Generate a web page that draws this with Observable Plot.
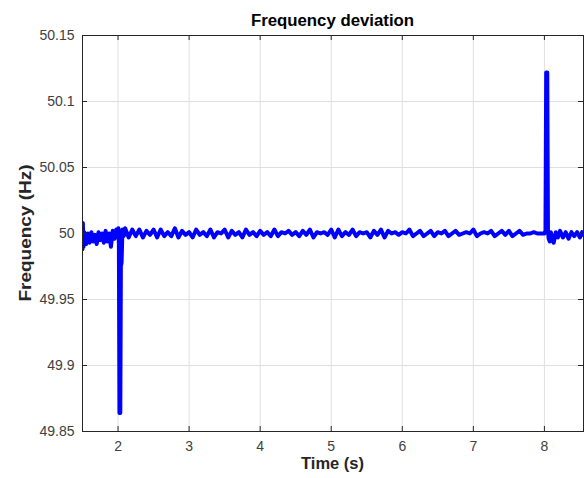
<!DOCTYPE html>
<html><head><meta charset="utf-8">
<script src="https://cdn.jsdelivr.net/npm/d3@7"></script>
<script src="https://cdn.jsdelivr.net/npm/@observablehq/plot@0.6"></script>
<style>html,body{margin:0;padding:0;background:#fff} svg{display:block}</style>
</head><body><div id="chart"></div>
<script>
const time = [
 1.500,1.505,1.515,1.525,1.550,1.575,1.600,1.625,1.650,1.675,1.700,1.725,1.750,1.775,1.800,1.825,1.850,1.875,1.900,1.925,1.950,1.975,1.995,2.005,2.012,2.020,2.032,2.040,2.050,2.062,2.080,2.100,
 2.15,2.20,2.25,2.30,2.35,2.40,2.45,2.50,2.55,2.60,2.65,2.70,2.75,2.80,2.85,2.90,2.95,3.00,
 3.05,3.10,3.15,3.20,3.25,3.30,3.35,3.40,3.45,3.50,3.55,3.60,3.65,3.70,3.75,3.80,3.85,3.90,3.95,4.00,
 4.05,4.10,4.15,4.20,4.25,4.30,4.35,4.40,4.45,4.50,4.55,4.60,4.65,4.70,4.75,4.80,4.85,4.90,4.95,5.00,
 5.05,5.10,5.15,5.20,5.25,5.30,5.35,5.40,5.45,5.50,5.55,5.60,5.65,5.70,5.75,5.80,5.85,5.90,5.95,6.00,
 6.05,6.10,6.15,6.20,6.25,6.30,6.35,6.40,6.45,6.50,6.55,6.60,6.65,6.70,6.75,6.80,6.85,6.90,6.95,7.00,
 7.05,7.10,7.15,7.20,7.25,7.30,7.35,7.40,7.45,7.50,7.55,7.60,7.65,7.70,7.75,7.80,7.85,7.90,7.95,8.00,
 8.015,8.025,8.040,8.050,8.060,8.075,8.090,8.11,8.13,8.16,8.19,8.22,8.26,8.30,8.34,8.38,8.42,8.46,8.50,8.53,8.55
];
const freq = [
 49.988,50.008,49.990,50.001,49.992,50.000,49.993,50.001,49.994,49.999,49.992,50.001,49.995,50.000,49.993,50.002,49.994,50.000,49.990,50.002,49.996,50.003,49.997,50.004,49.992,49.864,49.864,49.975,49.978,50.003,49.998,50.004,
 49.997,50.003,49.998,50.003,49.997,50.002,49.999,50.003,49.997,50.003,49.998,50.001,49.998,50.004,49.997,50.002,49.999,50.001,
 49.997,50.003,49.999,50.001,49.998,50.003,49.997,50.001,50.000,50.003,49.997,50.002,49.999,50.001,49.997,50.003,49.999,50.001,49.998,50.002,
 49.999,50.001,49.998,50.003,49.998,50.001,50.000,50.002,49.999,50.001,49.998,50.002,49.999,50.003,49.997,50.001,50.000,50.001,49.999,50.003,
 49.997,50.003,49.998,50.001,49.999,50.003,49.998,50.001,50.000,50.001,49.997,50.002,49.999,50.003,49.997,50.002,50.000,50.001,49.999,50.001,
 50.000,50.003,49.998,50.000,50.002,49.998,50.000,50.002,49.998,50.001,50.000,50.002,49.998,50.000,50.002,49.999,50.000,50.001,50.000,50.003,
 49.998,50.000,50.001,50.000,50.002,49.998,50.000,50.002,49.999,50.002,49.998,50.000,50.002,49.999,50.000,50.000,50.001,50.000,50.000,50.000,
 50.002,50.122,50.122,50.002,49.996,49.994,50.001,49.996,49.993,50.001,49.997,50.002,49.997,50.001,49.996,50.001,49.998,50.001,49.997,50.001,49.999
];
const xTicks = [2, 3, 4, 5, 6, 7, 8];
const xTickLabels = ["2", "3", "4", "5", "6", "7", "8"];
const yTicks = [49.85, 49.9, 49.95, 50, 50.05, 50.1, 50.15];
const yTickLabels = ["49.85", "49.9", "49.95", "50", "50.05", "50.1", "50.15"];
const titleText = "Frequency deviation";
const xLabelText = "Time (s)";
const yLabelText = "Frequency (Hz)";

const data = time.map((t, i) => ({t, f: freq[i]}));
const W = 584, H = 478, mL = 82, mR = 1, mT = 35, mB = 47;
const frameH = H - mT - mB, frameW = W - mL - mR;
const tk = 5;
const axisColor = "#262626";
const gridColor = "#dfdfdf";

const chart = Plot.plot({
  width: W, height: H,
  marginLeft: mL, marginRight: mR, marginTop: mT, marginBottom: mB,
  style: {fontFamily: "'Liberation Sans', Arial, sans-serif", background: "#fff", overflow: "visible"},
  x: {domain: [1.5, 8.55]},
  y: {domain: [49.85, 50.15]},
  marks: [
    Plot.gridX(xTicks, {stroke: gridColor, strokeOpacity: 1}),
    Plot.gridY(yTicks, {stroke: gridColor, strokeOpacity: 1}),
    Plot.line(data, {x: "t", y: "f", stroke: "#0000ff", strokeWidth: 4, strokeLinejoin: "round", clip: true}),
    Plot.frame({stroke: axisColor, strokeWidth: 1}),
    Plot.tickX(xTicks, {x: d => d, insetTop: frameH - tk, stroke: axisColor}),
    Plot.tickX(xTicks, {x: d => d, insetBottom: frameH - tk, stroke: axisColor}),
    Plot.tickY(yTicks, {y: d => d, insetRight: frameW - tk, stroke: axisColor}),
    Plot.tickY(yTicks, {y: d => d, insetLeft: frameW - tk, stroke: axisColor}),
    Plot.axisX({ticks: xTicks, tickSize: 0, tickPadding: 10, fontSize: 14, color: "#404040", label: null,
      tickFormat: d => xTickLabels[xTicks.indexOf(d)]}),
    Plot.axisY({ticks: yTicks, tickSize: 0, tickPadding: 8, fontSize: 14, color: "#404040", label: null,
      tickFormat: d => yTickLabels[yTicks.indexOf(d)]})
  ]
});

const svg = d3.select(chart);
const cx = mL + frameW / 2;
svg.append("text").attr("x", cx).attr("y", 26).attr("text-anchor", "middle")
  .attr("font-size", 16.8).attr("font-weight", "bold").attr("fill", "#000").text(titleText);
svg.append("text").attr("x", cx).attr("y", 469).attr("text-anchor", "middle")
  .attr("font-size", 16.5).attr("font-weight", "bold").attr("fill", axisColor).text(xLabelText);
svg.append("text").attr("transform", `translate(31,${mT + frameH / 2}) rotate(-90) scale(1.15,1)`)
  .attr("text-anchor", "middle")
  .attr("font-size", 16.5).attr("font-weight", "bold").attr("fill", axisColor).text(yLabelText);

document.getElementById("chart").appendChild(chart);
</script>
</body></html>
